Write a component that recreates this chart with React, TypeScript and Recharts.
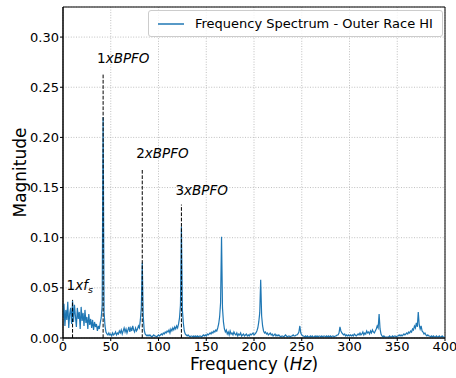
import React from 'react';
import {
  LineChart,
  Line,
  XAxis,
  YAxis,
  CartesianGrid,
  ReferenceLine,
  ReferenceDot,
  ReferenceArea,
  Label,
} from 'recharts';

// spectrum sampled at 1 Hz bins, 0..400 Hz
const FREQ_STEP_HZ = 1;
const MAGNITUDE = [
  0.020, 0.034, 0.012, 0.028, 0.018, 0.036, 0.010, 0.024, 0.030, 0.014,
  0.037, 0.016, 0.033, 0.022, 0.011, 0.030, 0.019, 0.026, 0.009, 0.031,
  0.017, 0.025, 0.012, 0.028, 0.015, 0.021, 0.009, 0.024, 0.013, 0.019,
  0.010, 0.018, 0.008, 0.016, 0.011, 0.014, 0.007, 0.012, 0.009, 0.015,
  0.020, 0.032, 0.220, 0.026, 0.012, 0.006, 0.004, 0.003, 0.005, 0.003,
  0.004, 0.002, 0.005, 0.003, 0.004, 0.006, 0.003, 0.005, 0.004, 0.007,
  0.005, 0.008, 0.004, 0.007, 0.010, 0.006, 0.009, 0.005, 0.008, 0.011,
  0.006, 0.010, 0.007, 0.012, 0.008, 0.006, 0.010, 0.007, 0.009, 0.012,
  0.010, 0.018, 0.030, 0.075, 0.022, 0.008, 0.004, 0.003, 0.002, 0.003,
  0.002, 0.003, 0.002, 0.001, 0.002, 0.003, 0.002, 0.002, 0.001, 0.002,
  0.003, 0.002, 0.003, 0.004, 0.003, 0.005, 0.004, 0.006, 0.005, 0.007,
  0.006, 0.008, 0.005, 0.009, 0.007, 0.010, 0.008, 0.011, 0.009, 0.012,
  0.010, 0.014, 0.020, 0.033, 0.111, 0.028, 0.015, 0.007, 0.004, 0.003,
  0.002, 0.003, 0.002, 0.001, 0.002, 0.002, 0.001, 0.002, 0.001, 0.002,
  0.001, 0.002, 0.001, 0.002, 0.002, 0.001, 0.002, 0.003, 0.002, 0.003,
  0.002, 0.004, 0.003, 0.004, 0.005, 0.004, 0.006, 0.005, 0.007, 0.006,
  0.008, 0.007, 0.010, 0.014, 0.021, 0.035, 0.101, 0.030, 0.016, 0.009,
  0.006, 0.008, 0.004, 0.006, 0.003, 0.007, 0.004, 0.005, 0.003, 0.006,
  0.004, 0.003, 0.005, 0.002, 0.004, 0.003, 0.005, 0.002, 0.003, 0.004,
  0.002, 0.003, 0.004, 0.002, 0.003, 0.002, 0.004, 0.003, 0.004, 0.005,
  0.003, 0.004, 0.005, 0.007, 0.010, 0.016, 0.025, 0.058, 0.022, 0.012,
  0.007, 0.005, 0.006, 0.004, 0.005, 0.003, 0.004, 0.005, 0.003, 0.004,
  0.002, 0.003, 0.004, 0.002, 0.003, 0.002, 0.003, 0.002, 0.001, 0.002,
  0.002, 0.001, 0.002, 0.003, 0.002, 0.001, 0.002, 0.002, 0.001, 0.002,
  0.002, 0.003, 0.002, 0.002, 0.003, 0.003, 0.004, 0.006, 0.012, 0.005,
  0.003, 0.002, 0.002, 0.001, 0.002, 0.001, 0.002, 0.001, 0.001, 0.002,
  0.001, 0.002, 0.001, 0.001, 0.002, 0.001, 0.002, 0.001, 0.002, 0.002,
  0.001, 0.002, 0.001, 0.002, 0.002, 0.001, 0.002, 0.001, 0.002, 0.001,
  0.002, 0.001, 0.002, 0.002, 0.001, 0.002, 0.002, 0.003, 0.003, 0.005,
  0.011, 0.007, 0.005, 0.004, 0.003, 0.004, 0.002, 0.003, 0.002, 0.003,
  0.002, 0.003, 0.002, 0.003, 0.002, 0.004, 0.003, 0.002, 0.003, 0.004,
  0.003, 0.005, 0.003, 0.004, 0.006, 0.003, 0.005, 0.004, 0.007, 0.005,
  0.006, 0.004, 0.007, 0.005, 0.008, 0.006, 0.005, 0.007, 0.009, 0.012,
  0.010, 0.024, 0.009, 0.004, 0.002, 0.001, 0.002, 0.001, 0.001, 0.001,
  0.001, 0.001, 0.002, 0.001, 0.001, 0.002, 0.001, 0.002, 0.002, 0.001,
  0.002, 0.002, 0.003, 0.002, 0.003, 0.002, 0.003, 0.004, 0.003, 0.004,
  0.005, 0.004, 0.006, 0.005, 0.007, 0.006, 0.009, 0.008, 0.012, 0.010,
  0.015, 0.011, 0.026, 0.013, 0.009, 0.012, 0.007, 0.006, 0.004, 0.005,
  0.003, 0.002, 0.003, 0.002, 0.002, 0.001, 0.002, 0.001, 0.002, 0.001,
  0.001, 0.002, 0.001, 0.001, 0.002, 0.001, 0.001, 0.002, 0.001, 0.001,
  0.001,
];

const X_TICKS = [0, 50, 100, 150, 200, 250, 300, 350, 400];
const Y_TICKS = [0, 0.05, 0.1, 0.15, 0.2, 0.25, 0.3];

// fault-frequency markers (dashed lines + labels)
const MARKER_FREQ = [10, 42, 83, 124];
const MARKER_TOP = [0.038, 0.264, 0.169, 0.133];
const MARKER_LEAD = ['1', '1', '2', '3'];
const MARKER_NAME = ['f', 'BPFO', 'BPFO', 'BPFO'];
const MARKER_SUB = ['s', '', '', ''];

const LEGEND_TEXT = 'Frequency Spectrum - Outer Race HI';
const BLUE = '#1f77b4';
const FONT = '"DejaVu Sans", sans-serif';

const data = MAGNITUDE.map((m, i) => ({ f: i * FREQ_STEP_HZ, m }));

const tickStyle = { fill: '#000', fontSize: 13, fontFamily: FONT };

export default function App() {
  return (
    <div style={{ position: 'absolute', left: 0, top: 0, width: 456, height: 378, background: '#fff' }}>
      <LineChart width={456} height={378} data={data} margin={{ top: 7, right: 11, bottom: 0, left: 0 }}>
        <CartesianGrid stroke="#b0b0b0" strokeDasharray="1 1.6" strokeWidth={0.8} />
        <XAxis
          dataKey="f"
          type="number"
          domain={[0, 400]}
          ticks={X_TICKS}
          height={40}
          tickSize={3}
          tickMargin={1}
          tick={tickStyle}
          stroke="#000"
          allowDataOverflow
        >
          <Label
            content={() => (
              <text x={254} y={370} textAnchor="middle" fontSize={17} fontFamily={FONT} fill="#000">
                Frequency (<tspan fontStyle="italic">Hz</tspan>)
              </text>
            )}
          />
        </XAxis>
        <YAxis
          type="number"
          domain={[0, 0.33]}
          ticks={Y_TICKS}
          width={63}
          tickSize={3}
          tickMargin={1}
          tick={tickStyle}
          tickFormatter={(v: number) => v.toFixed(2)}
          stroke="#000"
          allowDataOverflow
        >
          <Label
            content={() => (
              <text
                x={26}
                y={172.5}
                transform="rotate(-90, 26, 172.5)"
                textAnchor="middle"
                fontSize={17}
                fontFamily={FONT}
                fill="#000"
              >
                Magnitude
              </text>
            )}
          />
        </YAxis>
        <Line
          type="linear"
          dataKey="m"
          stroke={BLUE}
          strokeWidth={1.2}
          dot={false}
          activeDot={false}
          isAnimationActive={false}
        />
        {MARKER_FREQ.map((fx, i) => (
          <ReferenceLine
            key={'l' + i}
            segment={[
              { x: fx, y: 0 },
              { x: fx, y: MARKER_TOP[i] },
            ]}
            stroke="#000"
            strokeWidth={1}
            strokeDasharray="3.7 1.6"
          />
        ))}
        {MARKER_FREQ.map((fx, i) => (
          <ReferenceDot
            key={'t' + i}
            x={fx}
            y={MARKER_TOP[i]}
            r={0}
            shape={(p: any) => (
              <text x={p.cx - 6} y={p.cy - 10} fontSize={13.5} fontFamily={FONT} fill="#000">
                {MARKER_LEAD[i]}
                <tspan fontStyle="italic">x{MARKER_NAME[i]}</tspan>
                {MARKER_SUB[i] && (
                  <tspan fontStyle="italic" fontSize={9.5} dy={3}>
                    {MARKER_SUB[i]}
                  </tspan>
                )}
              </text>
            )}
          />
        ))}
        <ReferenceArea x1={0} x2={400} y1={0} y2={0.33} fill="none" stroke="#000" strokeWidth={1} />
      </LineChart>
      <div
        style={{
          position: 'absolute',
          left: 148,
          top: 10,
          width: 295,
          height: 27,
          boxSizing: 'border-box',
          border: '1px solid #cccccc',
          borderRadius: 3,
          background: 'rgba(255,255,255,0.8)',
          display: 'flex',
          alignItems: 'center',
          fontFamily: FONT,
          fontSize: 13,
          color: '#000',
          whiteSpace: 'nowrap',
        }}
      >
        <svg width={46} height={10} style={{ flex: 'none' }}>
          <line x1={9} y1={5} x2={35} y2={5} stroke={BLUE} strokeWidth={1.5} />
        </svg>
        <span>{LEGEND_TEXT}</span>
      </div>
    </div>
  );
}
